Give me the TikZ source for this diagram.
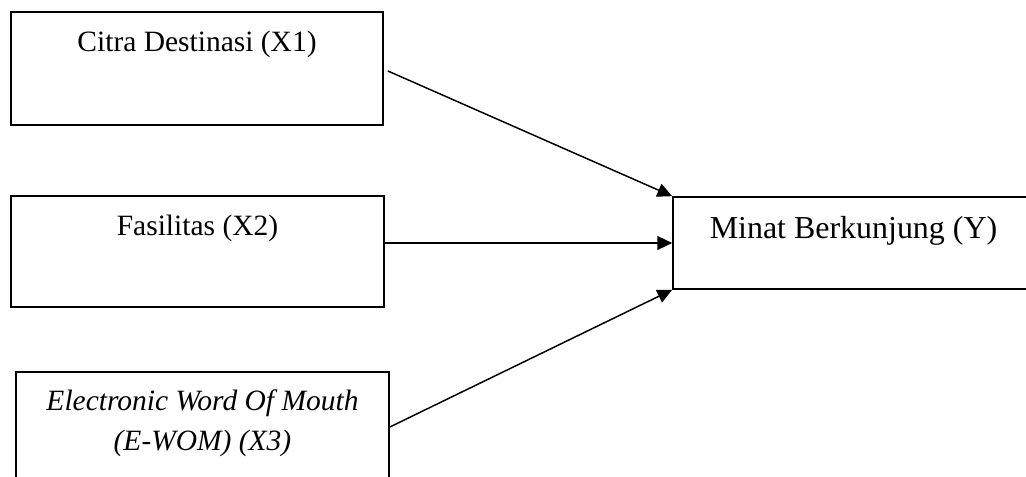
\documentclass[tikz,border=0pt]{standalone}
\usepackage{fontspec}
\setmainfont{Liberation Serif}
\usetikzlibrary{arrows.meta}

\tikzset{
  kotak/.style={draw, rectangle, line width=0.7pt, inner sep=0pt},
  panah/.style={-{Triangle[length=6pt,width=5.6pt]}, line width=0.6pt},
  teks/.style={anchor=base, align=center, inner sep=0pt, font=\fontsize{12}{16.2}\selectfont}
}

\begin{document}
\begin{tikzpicture}[x=0.407pt,y=-0.407pt]
  \useasboundingbox (0,0) rectangle (1026,477);

  % kotak variabel
  \node[kotak, minimum width=151.4pt, minimum height=46pt] (citra) at (197,68.5) {};
  \node[kotak, minimum width=151.8pt, minimum height=45.2pt] (fasilitas) at (197.5,251.5) {};
  \node[kotak, minimum width=151.8pt, minimum height=44.8pt] (ewom) at (202.5,427) {};
  \node[kotak, minimum width=146.9pt, minimum height=37.4pt] (minat) at (853.5,243) {};

  \node[teks] (tcitra) at ([yshift=-16.6pt]citra.north) {Citra Destinasi (X1)};
  \node[teks] (tfasilitas) at ([yshift=-16.6pt]fasilitas.north) {Fasilitas (X2)};
  \node[teks, font=\fontsize{12}{16.2}\selectfont\itshape] (tewom) at ([yshift=-32.4pt]ewom.north) {Electronic Word Of Mouth\\(E-WOM) (X3)};
  \node[teks, font=\fontsize{13}{15.6}\selectfont] (tminat) at ([yshift=-17.2pt]minat.north) {Minat Berkunjung (Y)};

  % panah
  \draw[panah] ([xshift=1.6pt,yshift=-1pt]citra.east) -- (minat.north west);
  \draw[panah] (fasilitas.east |- minat.west) -- (minat.west);
  \draw[panah] (ewom.east) -- (minat.south west);
\end{tikzpicture}
\end{document}
